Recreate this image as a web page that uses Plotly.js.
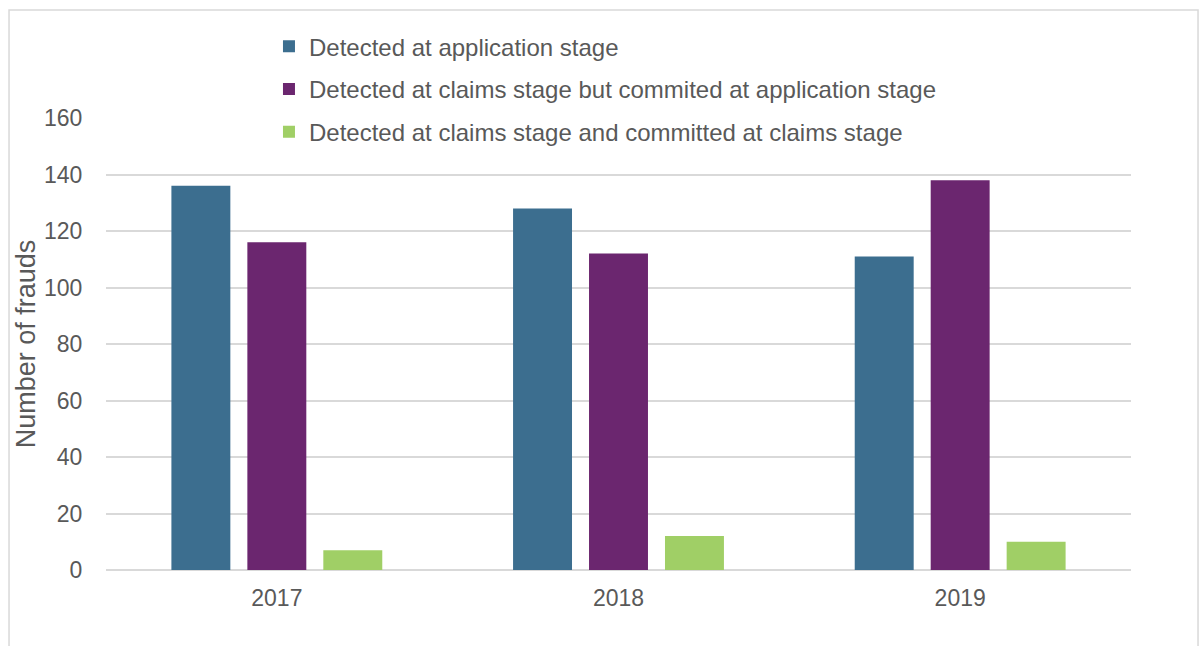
<!DOCTYPE html>
<html>
<head>
<meta charset="utf-8">
<script src="https://cdn.plot.ly/plotly-3.0.1.min.js"></script>
<style>html,body{margin:0;padding:0;background:#fff;}#chart{width:1200px;height:646px;}</style>
</head>
<body>
<div id="chart"></div>
<script>
var years = ['2017', '2018', '2019'];
var seriesNames = [
  'Detected at application stage',
  'Detected at claims stage but commited at application stage',
  'Detected at claims stage and committed at claims stage'
];
var appStage = [136, 128, 111];
var claimsButApp = [116, 112, 138];
var claimsClaims = [7, 12, 10];
var yTicks = [0, 20, 40, 60, 80, 100, 120, 140, 160];

var colors = ['#3C6E8F', '#6B266F', '#A0CF66'];
var values = [appStage, claimsButApp, claimsClaims];

var traces = values.map(function (v, i) {
  return {
    type: 'bar',
    x: years,
    y: v,
    name: seriesNames[i],
    legendgroup: 'g' + i,
    marker: {color: colors[i]},
    hoverinfo: 'x+y+name'
  };
});

var layout = {
  width: 1200,
  height: 646,
  margin: {l: 106, r: 69, t: 118, b: 76},
  paper_bgcolor: '#ffffff',
  plot_bgcolor: '#ffffff',
  font: {family: 'Liberation Sans, Arial, sans-serif', size: 23, color: '#595959'},
  barmode: 'group',
  bargap: 0.333,
  bargroupgap: 0.224,
  showlegend: true,
  legend: {
    x: 0.159, xanchor: 'left',
    y: 1.2075, yanchor: 'top',
    traceorder: 'grouped',
    tracegroupgap: 8.5,
    font: {size: 24, color: '#595959'},
    bgcolor: 'rgba(0,0,0,0)'
  },
  xaxis: {
    type: 'category',
    showgrid: false,
    showline: false,
    zeroline: false,
    ticks: 'outside',
    ticklen: 7,
    tickcolor: 'rgba(0,0,0,0)',
    tickfont: {size: 23, color: '#595959'}
  },
  yaxis: {
    range: [0, 160],
    tickvals: yTicks,
    ticktext: yTicks.map(String),
    showgrid: true,
    gridcolor: '#D9D9D9',
    gridwidth: 1.5,
    zeroline: true,
    zerolinecolor: '#D9D9D9',
    zerolinewidth: 1.5,
    showline: false,
    ticks: 'outside',
    ticklen: 18,
    tickcolor: 'rgba(0,0,0,0)',
    tickfont: {size: 23, color: '#595959'},
    title: {text: 'Number of frauds', font: {size: 27, color: '#595959'}, standoff: 0}
  },
  shapes: [{
    type: 'rect',
    xref: 'paper', yref: 'paper',
    x0: -0.0946, x1: 1.0654,
    y0: -0.3, y1: 1.239,
    line: {color: '#D9D9D9', width: 1.5},
    fillcolor: 'rgba(0,0,0,0)',
    layer: 'below'
  }]
};

Plotly.newPlot('chart', traces, layout, {displayModeBar: false, staticPlot: false});
</script>
</body>
</html>
